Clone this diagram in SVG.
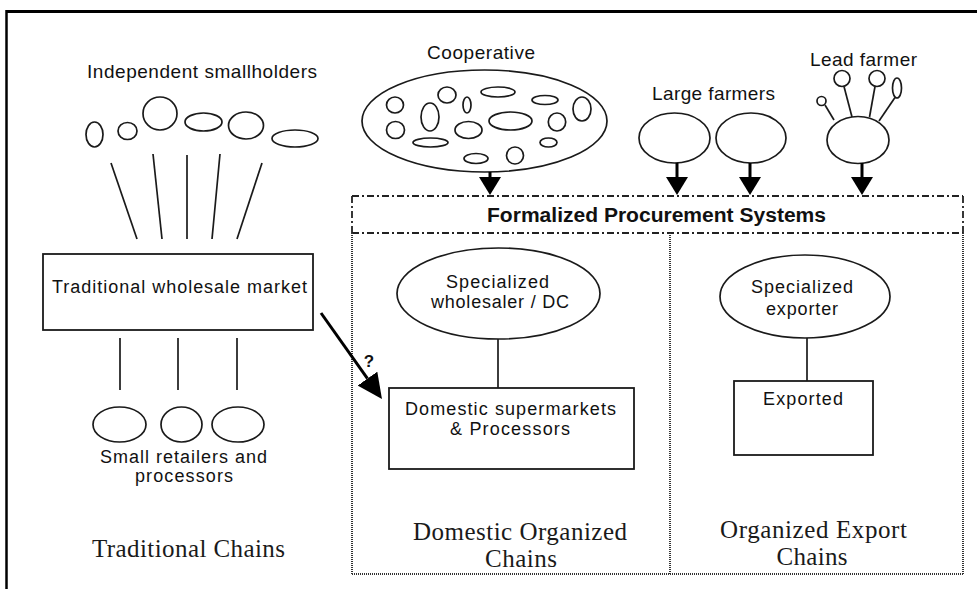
<svg xmlns="http://www.w3.org/2000/svg" width="977" height="589" viewBox="0 0 977 589">
  <defs>
    <style>
      .sh { fill: none; stroke: #1a1a1a; stroke-width: 1.7; }
      .ln { fill: none; stroke: #1a1a1a; stroke-width: 1.7; }
      .box { fill: #fff; stroke: #1a1a1a; stroke-width: 1.8; }
      .arr { fill: none; stroke: #000; stroke-width: 3; }
      .dd { fill: none; stroke: #222; stroke-width: 1.8; stroke-dasharray: 7 3 2 3; }
      .dot { fill: none; stroke: #333; stroke-width: 2; stroke-dasharray: 1 1; }
      .t { font-family: "Liberation Sans", Arial, sans-serif; fill: #111; text-anchor: middle; }
      .s { font-family: "Liberation Serif", "Times New Roman", serif; fill: #1a1a1a; text-anchor: middle; font-size: 25px; }
    </style>
    <marker id="head" markerUnits="userSpaceOnUse" markerWidth="22" markerHeight="22" refX="0" refY="11" orient="auto">
      <path d="M0,0 L18,11 L0,22 z" fill="#000"/>
    </marker>
    <marker id="head-lg" markerUnits="userSpaceOnUse" markerWidth="26" markerHeight="24" refX="0" refY="12" orient="auto">
      <path d="M0,0 L25,12 L0,24 z" fill="#000"/>
    </marker>
  </defs>

  <rect width="977" height="589" fill="#fff"/>

  <!-- page frame -->
  <line x1="6.5" y1="11.5" x2="977" y2="11.5" stroke="#000" stroke-width="3"/>
  <line x1="6.5" y1="10" x2="6.5" y2="589" stroke="#000" stroke-width="2.5"/>

  <!-- formalized procurement area -->
  <g id="procurement-area">
    <line class="dd" x1="352" y1="196" x2="963" y2="196"/>
    <line class="dd" x1="352" y1="233" x2="963" y2="233"/>
    <line class="dd" x1="352" y1="196" x2="352" y2="233"/>
    <line class="dd" x1="963" y1="196" x2="963" y2="233"/>
    <line class="dot" x1="352" y1="233" x2="352" y2="574"/>
    <line class="dot" x1="670" y1="233" x2="670" y2="574"/>
    <line class="dot" x1="963" y1="233" x2="963" y2="574"/>
    <line class="dot" x1="352" y1="574" x2="963" y2="574"/>
    <text class="t" x="656.5" y="222" font-size="20" font-weight="bold" textLength="339" lengthAdjust="spacingAndGlyphs">Formalized Procurement Systems</text>
  </g>

  <!-- independent smallholders -->
  <g id="smallholders">
    <text class="t" x="202" y="78" font-size="19" textLength="230" lengthAdjust="spacing">Independent smallholders</text>
    <ellipse class="sh" cx="94.5" cy="134.5" rx="8.5" ry="12.5"/>
    <ellipse class="sh" cx="127.5" cy="131" rx="9.5" ry="8.5"/>
    <ellipse class="sh" cx="160" cy="113.5" rx="17" ry="16.5"/>
    <ellipse class="sh" cx="203.5" cy="122" rx="18.5" ry="9"/>
    <ellipse class="sh" cx="246" cy="125.5" rx="17.5" ry="13.5"/>
    <ellipse class="sh" cx="295" cy="138.5" rx="23" ry="8.5"/>
  </g>

  <!-- traditional wholesale market -->
  <g id="wholesale-market">
    <rect class="box" x="43" y="254" width="270" height="76"/>
    <text class="t" x="179.5" y="293" font-size="18" textLength="255" lengthAdjust="spacing">Traditional wholesale market</text>
  </g>

  <!-- small retailers and processors -->
  <g id="small-retailers">
    <ellipse class="sh" cx="119.5" cy="424.5" rx="26.5" ry="17.5"/>
    <ellipse class="sh" cx="181.5" cy="424.5" rx="20.5" ry="17.5"/>
    <ellipse class="sh" cx="238" cy="424.5" rx="26" ry="17.5"/>
    <text class="t" x="183.5" y="463" font-size="18" textLength="167" lengthAdjust="spacing">Small retailers and</text>
    <text class="t" x="184" y="482" font-size="18" textLength="98" lengthAdjust="spacing">processors</text>
  </g>

  <text id="traditional-chains" class="s" x="188.5" y="557" textLength="193" lengthAdjust="spacing">Traditional Chains</text>

  <!-- cooperative -->
  <g id="cooperative">
    <text class="t" x="481" y="59" font-size="19" textLength="108" lengthAdjust="spacing">Cooperative</text>
    <ellipse class="sh" cx="484.5" cy="121" rx="122.5" ry="51"/>
    <ellipse class="sh" cx="395" cy="105" rx="8.5" ry="8"/>
    <ellipse class="sh" cx="395.5" cy="130" rx="9" ry="8.5"/>
    <ellipse class="sh" cx="447" cy="95" rx="9" ry="8"/>
    <ellipse class="sh" cx="467" cy="105" rx="4" ry="8"/>
    <ellipse class="sh" cx="430" cy="117" rx="9" ry="14"/>
    <ellipse class="sh" cx="498" cy="92" rx="17" ry="5"/>
    <ellipse class="sh" cx="545" cy="100" rx="13" ry="4.5"/>
    <ellipse class="sh" cx="582" cy="109" rx="9" ry="12"/>
    <ellipse class="sh" cx="468.5" cy="130" rx="13.5" ry="8.5"/>
    <ellipse class="sh" cx="510.5" cy="121" rx="21.5" ry="9"/>
    <ellipse class="sh" cx="557" cy="122" rx="8.7" ry="9"/>
    <ellipse class="sh" cx="430.5" cy="142.5" rx="17.5" ry="4.5"/>
    <ellipse class="sh" cx="548.5" cy="142.5" rx="8.5" ry="4.5"/>
    <ellipse class="sh" cx="476" cy="158.5" rx="12" ry="5"/>
    <ellipse class="sh" cx="515" cy="155.5" rx="8.5" ry="8.5"/>
  </g>

  <!-- large farmers -->
  <g id="large-farmers">
    <text class="t" x="713.5" y="100" font-size="19" textLength="123" lengthAdjust="spacing">Large farmers</text>
    <ellipse class="sh" cx="674.5" cy="138" rx="35.5" ry="25"/>
    <ellipse class="sh" cx="751" cy="138" rx="35" ry="25"/>
  </g>

  <!-- lead farmer -->
  <g id="lead-farmer">
    <text class="t" x="863.5" y="66" font-size="19" textLength="107" lengthAdjust="spacing">Lead farmer</text>
    <ellipse class="sh" cx="858" cy="140" rx="31" ry="23.5"/>
    <circle class="sh" cx="842" cy="78.5" r="8"/>
    <circle class="sh" cx="877" cy="78.5" r="8"/>
    <ellipse class="sh" cx="897" cy="88" rx="4.5" ry="10"/>
    <circle class="sh" cx="821.5" cy="101" r="4.5"/>
    <line class="ln" x1="825" y1="105" x2="834" y2="120"/>
    <line class="ln" x1="844" y1="86.5" x2="852" y2="117"/>
    <line class="ln" x1="875" y1="86.5" x2="869.5" y2="117"/>
    <line class="ln" x1="895" y1="97.5" x2="879" y2="121"/>
  </g>

  <!-- specialized wholesaler / DC -->
  <g id="wholesaler-dc">
    <ellipse class="sh" cx="498.5" cy="293.5" rx="101.5" ry="45.5"/>
    <text class="t" x="497.5" y="288" font-size="18" textLength="103" lengthAdjust="spacing">Specialized</text>
    <text class="t" x="500" y="308" font-size="18" textLength="138" lengthAdjust="spacing">wholesaler / DC</text>
  </g>

  <!-- domestic supermarkets -->
  <g id="domestic-supermarkets">
    <rect class="box" x="389" y="388" width="245" height="81"/>
    <text class="t" x="510.5" y="415" font-size="18" textLength="211" lengthAdjust="spacing">Domestic supermarkets</text>
    <text class="t" x="510" y="435" font-size="18" textLength="120" lengthAdjust="spacing">&amp; Processors</text>
  </g>

  <g id="domestic-chains-label">
    <text class="s" x="520" y="540" textLength="214" lengthAdjust="spacing">Domestic Organized</text>
    <text class="s" x="521" y="567" textLength="72" lengthAdjust="spacing">Chains</text>
  </g>

  <!-- specialized exporter -->
  <g id="exporter">
    <ellipse class="sh" cx="805" cy="296.5" rx="85" ry="41.5"/>
    <text class="t" x="802" y="293" font-size="18" textLength="102" lengthAdjust="spacing">Specialized</text>
    <text class="t" x="802" y="315" font-size="18" textLength="72" lengthAdjust="spacing">exporter</text>
  </g>

  <!-- exported -->
  <g id="exported">
    <rect class="box" x="734" y="381" width="139" height="74"/>
    <text class="t" x="803" y="405" font-size="18" textLength="80" lengthAdjust="spacing">Exported</text>
  </g>

  <g id="export-chains-label">
    <text class="s" x="813.5" y="538" textLength="187" lengthAdjust="spacing">Organized Export</text>
    <text class="s" x="812" y="565" textLength="71" lengthAdjust="spacing">Chains</text>
  </g>

  <!-- connectors -->
  <g id="connectors">
    <line class="ln" x1="111" y1="163" x2="137" y2="239"/>
    <line class="ln" x1="153" y1="154" x2="162" y2="239"/>
    <line class="ln" x1="187" y1="155" x2="187" y2="239"/>
    <line class="ln" x1="220" y1="154" x2="212" y2="239"/>
    <line class="ln" x1="262" y1="163" x2="237" y2="239"/>

    <line class="ln" x1="120" y1="338" x2="120" y2="390"/>
    <line class="ln" x1="178" y1="338" x2="178" y2="390"/>
    <line class="ln" x1="237" y1="338" x2="237" y2="390"/>

    <line class="ln" x1="498" y1="339" x2="498" y2="388"/>
    <line class="ln" x1="807" y1="338" x2="807" y2="381"/>

    <line class="arr" x1="490" y1="172" x2="490" y2="177" marker-end="url(#head)"/>
    <line class="arr" x1="677" y1="163" x2="677" y2="177" marker-end="url(#head)"/>
    <line class="arr" x1="750" y1="163" x2="750" y2="177" marker-end="url(#head)"/>
    <line class="arr" x1="862" y1="163" x2="862" y2="177" marker-end="url(#head)"/>

    <line class="arr" x1="321" y1="313" x2="367.5" y2="378.6" marker-end="url(#head-lg)"/>
    <text class="t" x="369" y="367" font-size="17" font-weight="bold">?</text>
  </g>
</svg>
